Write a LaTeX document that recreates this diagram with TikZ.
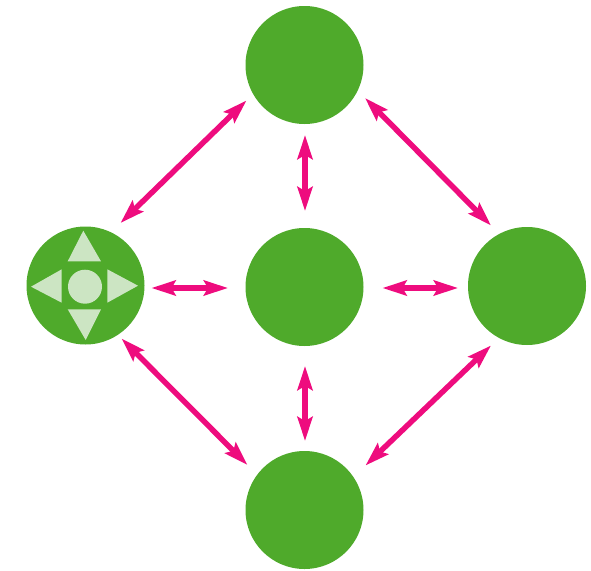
\documentclass[tikz,border=0pt]{standalone}
\usetikzlibrary{arrows.meta}
\definecolor{leaf}{HTML}{4FAA2B}
\definecolor{pale}{HTML}{CCE5C3}
\definecolor{pinkish}{HTML}{EE0C7E}
\tikzset{
  hub/.style={circle,fill=leaf,draw=none,inner sep=0pt,outer sep=0pt,minimum size=118pt},
  link/.style={draw=pinkish,line width=5.5pt,{Stealth[length=24pt,width=15pt,inset=4pt]}-{Stealth[length=24pt,width=15pt,inset=4pt]}},
  glyph/.style={fill=pale,draw=none}
}
\begin{document}
\begin{tikzpicture}[x=1pt,y=-1pt]
\useasboundingbox (0,0) rectangle (591,570);
\node[hub] (nT) at (304.5,65) {};
\node[hub] (nW) at (85.5,285.5) {};
\node[hub] (nC) at (304.5,287) {};
\node[hub] (nE) at (527,286) {};
\node[hub] (nB) at (304.5,510) {};
% control glyph
\fill[glyph] (83.3,230.7) -- (101,261.3) -- (67.7,261.3) -- cycle;
\fill[glyph] (85.7,340) -- (101,309.3) -- (67.7,309.3) -- cycle;
\fill[glyph] (31,286.7) -- (61.7,269.3) -- (61.7,302.7) -- cycle;
\fill[glyph] (138,285.7) -- (107.3,269.3) -- (107.3,302.7) -- cycle;
\fill[glyph] (85,286.7) circle (17);
% connectors
\draw[link] ([shift={(-58,35.5)}]nT.center) -- ([shift={(35,-62.5)}]nW.center);
\draw[link] ([shift={(60.5,33)}]nT.center) -- ([shift={(-36,-60.5)}]nE.center);
\draw[link] ([shift={(0.5,70)}]nT.center) -- ([shift={(0.5,-76)}]nC.center);
\draw[link] ([shift={(66,2.5)}]nW.center) -- ([shift={(-76.5,1)}]nC.center);
\draw[link] ([shift={(78,1)}]nC.center) -- ([shift={(-69,2)}]nE.center);
\draw[link] ([shift={(0.5,79)}]nC.center) -- ([shift={(0.5,-69)}]nB.center);
\draw[link] ([shift={(36,53)}]nW.center) -- ([shift={(-57,-45)}]nB.center);
\draw[link] ([shift={(-36,59.5)}]nE.center) -- ([shift={(61,-44.5)}]nB.center);
\end{tikzpicture}
\end{document}
